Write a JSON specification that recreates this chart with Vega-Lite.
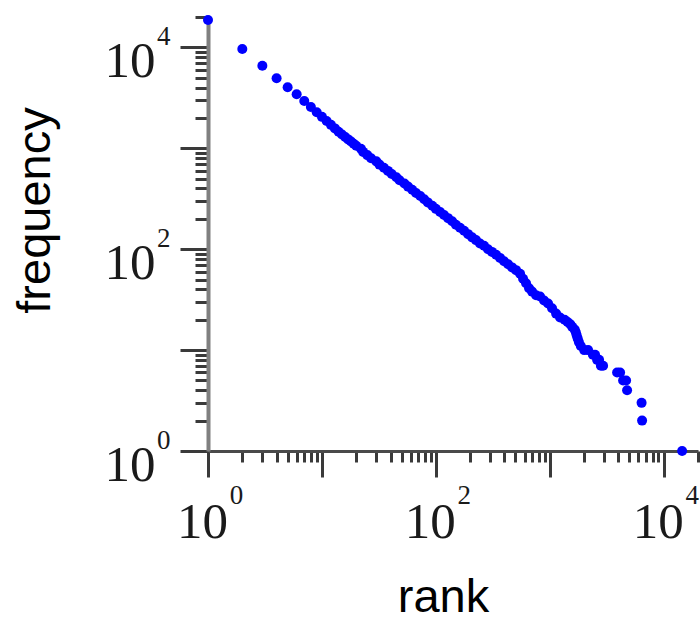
{
  "$schema": "https://vega.github.io/schema/vega-lite/v6.json",
  "width": 490,
  "height": 434,
  "autosize": "none",
  "padding": {"left": 208, "top": 17, "right": 2, "bottom": 170},
  "background": "white",
  "config": {"view": {"stroke": null}},
  "data": {"values": [
    {"rank": 1, "freq": 18700}, {"rank": 2, "freq": 9640}, {"rank": 3, "freq": 6585}, {"rank": 4, "freq": 4940},
    {"rank": 5, "freq": 4024}, {"rank": 6, "freq": 3429}, {"rank": 7, "freq": 2936}, {"rank": 8, "freq": 2567},
    {"rank": 9, "freq": 2279}, {"rank": 10, "freq": 2048}, {"rank": 11, "freq": 1865}, {"rank": 12, "freq": 1706},
    {"rank": 13, "freq": 1575}, {"rank": 14, "freq": 1460}, {"rank": 15, "freq": 1367}, {"rank": 16, "freq": 1294},
    {"rank": 17, "freq": 1225}, {"rank": 18, "freq": 1165}, {"rank": 19, "freq": 1111}, {"rank": 20, "freq": 1061},
    {"rank": 22, "freq": 991}, {"rank": 23, "freq": 921}, {"rank": 25, "freq": 856}, {"rank": 27, "freq": 798},
    {"rank": 30, "freq": 742}, {"rank": 32, "freq": 689}, {"rank": 35, "freq": 642}, {"rank": 38, "freq": 597},
    {"rank": 41, "freq": 556}, {"rank": 45, "freq": 517}, {"rank": 48, "freq": 482}, {"rank": 53, "freq": 448},
    {"rank": 57, "freq": 417}, {"rank": 62, "freq": 388}, {"rank": 67, "freq": 361}, {"rank": 73, "freq": 336},
    {"rank": 79, "freq": 312}, {"rank": 85, "freq": 291}, {"rank": 93, "freq": 270}, {"rank": 100, "freq": 251},
    {"rank": 109, "freq": 234}, {"rank": 118, "freq": 218}, {"rank": 128, "freq": 203}, {"rank": 139, "freq": 189},
    {"rank": 150, "freq": 175}, {"rank": 163, "freq": 163}, {"rank": 177, "freq": 152}, {"rank": 192, "freq": 141},
    {"rank": 208, "freq": 131}, {"rank": 225, "freq": 123}, {"rank": 244, "freq": 114}, {"rank": 265, "freq": 108},
    {"rank": 287, "freq": 100}, {"rank": 311, "freq": 94}, {"rank": 338, "freq": 88}, {"rank": 366, "freq": 82},
    {"rank": 397, "freq": 76}, {"rank": 431, "freq": 71}, {"rank": 467, "freq": 66}, {"rank": 506, "freq": 62},
    {"rank": 549, "freq": 57}, {"rank": 583, "freq": 51}, {"rank": 619, "freq": 46}, {"rank": 658, "freq": 41},
    {"rank": 699, "freq": 38}, {"rank": 758, "freq": 35}, {"rank": 822, "freq": 34}, {"rank": 891, "freq": 31},
    {"rank": 966, "freq": 29}, {"rank": 1047, "freq": 26}, {"rank": 1136, "freq": 23}, {"rank": 1231, "freq": 21},
    {"rank": 1349, "freq": 20}, {"rank": 1433, "freq": 19}, {"rank": 1514, "freq": 18}, {"rank": 1573, "freq": 17},
    {"rank": 1655, "freq": 16}, {"rank": 1692, "freq": 15}, {"rank": 1723, "freq": 14}, {"rank": 1758, "freq": 13},
    {"rank": 1801, "freq": 12}, {"rank": 1872, "freq": 11}, {"rank": 2005, "freq": 10}, {"rank": 2169, "freq": 10},
    {"rank": 2390, "freq": 9}, {"rank": 2499, "freq": 9}, {"rank": 2603, "freq": 8}, {"rank": 2709, "freq": 8},
    {"rank": 2811, "freq": 7}, {"rank": 2938, "freq": 7}, {"rank": 3898, "freq": 6}, {"rank": 4142, "freq": 6},
    {"rank": 4401, "freq": 5}, {"rank": 4677, "freq": 5}, {"rank": 4771, "freq": 4}, {"rank": 6395, "freq": 3},
    {"rank": 6460, "freq": 2}, {"rank": 14505, "freq": 1}
  ]},
  "layer": [
    {
      "mark": {"type": "point", "filled": true, "shape": "circle", "size": 100, "color": "#0000ff", "opacity": 1},
      "encoding": {
        "x": {
          "field": "rank", "type": "quantitative",
          "scale": {"type": "log", "domain": [1, 20000], "nice": false},
          "axis": {
            "orient": "bottom",
            "values": [1,2,3,4,5,6,7,8,9,10,20,30,40,50,60,70,80,90,100,200,300,400,500,600,700,800,900,1000,2000,3000,4000,5000,6000,7000,8000,9000,10000,20000],
            "tickSize": {"condition": {"test": "datum.value == 1 || datum.value == 10 || datum.value == 100 || datum.value == 1000 || datum.value == 10000", "value": 26}, "value": 11},
            "tickWidth": 3, "tickColor": "#3a3a3a",
            "domainColor": "#4a4a4a", "domainWidth": 3,
            "grid": false,
            "labelExpr": "(datum.value == 1 || datum.value == 100 || datum.value == 10000) ? '10' : ''",
            "labelFont": "Liberation Serif", "labelFontSize": 51, "labelColor": "#1a1a1a",
            "labelAlign": "center", "labelBaseline": "alphabetic", "labelPadding": 60, "labelOffset": -6,
            "labelOverlap": false, "labelFlush": false, "labelBound": false,
            "title": "rank", "titleFont": "Liberation Sans", "titleFontSize": 47, "titleFontWeight": "normal",
            "titleColor": "#000000", "titleX": 235, "titleY": 160, "titleBaseline": "alphabetic", "titleAlign": "center"
          }
        },
        "y": {
          "field": "freq", "type": "quantitative",
          "scale": {"type": "log", "domain": [1, 20000], "nice": false},
          "axis": {
            "orient": "left",
            "values": [1,2,3,4,5,6,7,8,9,10,20,30,40,50,60,70,80,90,100,200,300,400,500,600,700,800,900,1000,2000,3000,4000,5000,6000,7000,8000,9000,10000,20000],
            "tickSize": {"condition": {"test": "datum.value == 1 || datum.value == 10 || datum.value == 100 || datum.value == 1000 || datum.value == 10000", "value": 28}, "value": 13},
            "tickWidth": 3, "tickColor": "#3a3a3a",
            "domainColor": "#808080", "domainWidth": 4,
            "grid": false,
            "labelExpr": "(datum.value == 1 || datum.value == 100 || datum.value == 10000) ? '10' : ''",
            "labelFont": "Liberation Serif", "labelFontSize": 51, "labelColor": "#1a1a1a",
            "labelAlign": "right", "labelBaseline": "alphabetic", "labelPadding": 25, "labelOffset": 29,
            "labelOverlap": false, "labelFlush": false, "labelBound": false,
            "title": "frequency", "titleFont": "Liberation Sans", "titleFontSize": 47, "titleFontWeight": "normal",
            "titleColor": "#000000", "titleAngle": -90, "titleX": -159, "titleY": 193, "titleBaseline": "alphabetic", "titleAlign": "center"
          }
        }
      }
    },
    {
      "mark": {"type": "point", "opacity": 0},
      "encoding": {
        "x": {
          "field": "rank", "type": "quantitative",
          "scale": {"type": "log", "domain": [1, 20000], "nice": false},
          "axis": {
            "orient": "bottom", "values": [1, 100, 10000],
            "ticks": false, "domain": false, "grid": false, "title": null,
            "labelExpr": "datum.value == 1 ? '0' : datum.value == 100 ? '2' : '4'",
            "labelFont": "Liberation Serif", "labelFontSize": 27, "labelColor": "#1a1a1a",
            "labelAlign": "center", "labelBaseline": "alphabetic", "labelPadding": 52, "labelOffset": 28,
            "labelOverlap": false, "labelFlush": false, "labelBound": false
          }
        },
        "y": {
          "field": "freq", "type": "quantitative",
          "scale": {"type": "log", "domain": [1, 20000], "nice": false},
          "axis": {
            "orient": "left", "values": [1, 100, 10000],
            "ticks": false, "domain": false, "grid": false, "title": null,
            "labelExpr": "datum.value == 1 ? '0' : datum.value == 100 ? '2' : '4'",
            "labelFont": "Liberation Serif", "labelFontSize": 27, "labelColor": "#1a1a1a",
            "labelAlign": "right", "labelBaseline": "alphabetic", "labelPadding": 38, "labelOffset": -3,
            "labelOverlap": false, "labelFlush": false, "labelBound": false
          }
        }
      }
    }
  ],
  "resolve": {"axis": {"x": "independent", "y": "independent"}}
}
